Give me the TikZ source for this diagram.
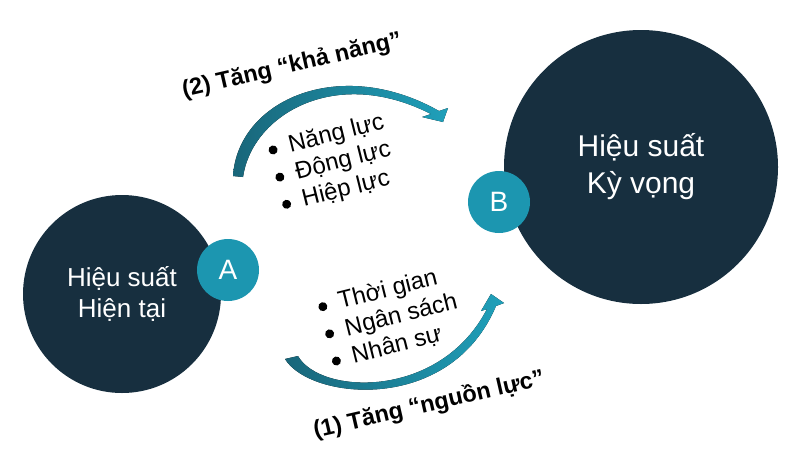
\documentclass[tikz,border=0pt]{standalone}
\usepackage{fontspec}
\setmainfont{Liberation Sans}
\usepackage{xcolor}
\usepackage{tikz}
\definecolor{azulEscuro}{RGB}{23,47,63}
\definecolor{azulMarca}{RGB}{28,150,176}
\definecolor{setaEscura}{RGB}{25,102,122}
\definecolor{setaClara}{RGB}{31,160,186}
\newcommand{\marcador}{\tikz[x=1pt, y=1pt, baseline=-6.5pt]\fill (0,0) circle (4.5pt);\hspace{12pt}}
\tikzset{
    circuloGrande/.style={
        circle,
        fill=azulEscuro,
        text=white,
        align=center,
        inner sep=0pt
    },
    marca/.style={
        circle,
        fill=azulMarca,
        text=white,
        minimum size=62pt,
        inner sep=0pt,
        font=\fontsize{28}{32}\selectfont
    },
    lista/.style={align=left, rotate=14, inner sep=0pt, font=\fontsize{24}{28}\selectfont},
    rotulo/.style={rotate=13, inner sep=0pt, font=\fontsize{23.5}{28}\selectfont\bfseries},
    seta/.style={left color=setaEscura, right color=setaClara, draw=none}
}

\begin{document}
\begin{tikzpicture}[x=1pt, y=-1pt]
        \useasboundingbox (0,0) rectangle (800,474);
        \node[circuloGrande, minimum size=198pt, font=\fontsize{26}{31}\selectfont] (atual) at (122,294)
            {Hiệu suất\\Hiện tại};
        \node[circuloGrande, minimum size=274pt, font=\fontsize{30}{37}\selectfont] (esperado) at (641,167)
            {Hiệu suất\\Kỳ vọng};
        \node[marca] (marcaA) at (228,270) {A};
        \node[marca] (marcaB) at (499,202) {B};

        \node[lista] (capacidades) at (333,164)
            {\marcador Năng lực\\\marcador Động lực\\\marcador Hiệp lực};
        \node[lista] (recursos) at (391,318)
            {\marcador Thời gian\\\marcador Ngân sách\\\marcador Nhân sự};
        \node[rotulo] (rotuloCapacidade) at (292,66) {(2) Tăng “khả năng”};
        \node[rotulo] (rotuloRecurso) at (429,405) {(1) Tăng “nguồn lực”};

        \fill[seta] (233,176) .. controls (238,100) and (340,55) .. (439,111)
            -- (448,108) -- (443,122) -- (422,117) -- (431,114)
            .. controls (335,65) and (252,115) .. (243,177) -- cycle;
        \fill[seta] (285,359) .. controls (310,400) and (450,415) .. (496,306)
            -- (504,303) -- (491,294) -- (481,311) -- (487,309)
            .. controls (440,400) and (320,395) .. (298,356) -- cycle;
    \end{tikzpicture}
\end{document}
